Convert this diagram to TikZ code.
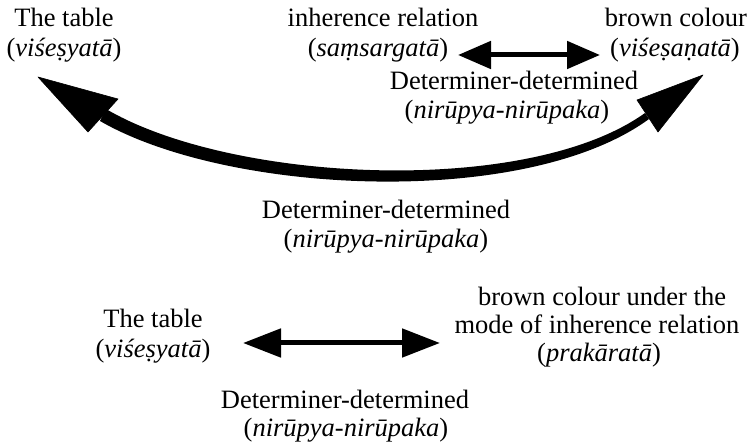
\documentclass[tikz,border=0pt]{standalone}
\usepackage{fontspec}
\setmainfont{Liberation Serif}
\usetikzlibrary{arrows.meta}
\begin{document}
\begin{tikzpicture}[x=1pt,y=-1pt,
  lbl/.style={anchor=base, inner sep=0pt, font=\fontsize{26.5}{29}\selectfont},
  dblarrow/.style={line width=5pt,
    {Triangle[length=33pt,width=27pt]}-{Triangle[length=33pt,width=27pt]}},
  dblarrowb/.style={line width=5pt,
    {Triangle[length=38pt,width=28pt]}-{Triangle[length=38pt,width=28pt]}},
  bighead/.style={fill=black, draw=black, line join=round, line width=0.6pt},
]
\useasboundingbox (0,0) rectangle (753,443);

% ---------- upper relation ----------
\node[lbl] (tabA)  at (64,27)  {The table};
\node[lbl] (tabB)  at (64,57)  {(\textit{viśeṣyatā})};
\node[lbl] (inhA)  at (383,27) {inherence relation};
\node[lbl] (inhB)  at (378,57) {(\textit{saṃsargatā})};
\node[lbl] (brA)   at (676,27) {brown colour};
\node[lbl] (brB)   at (675,57) {(\textit{viśeṣaṇatā})};
\node[lbl] (ddA)   at (514,90) {Determiner-determined};
\node[lbl] (ddB)   at (507,119) {(\textit{nirūpya-nirūpaka})};

% short double arrow between relation and qualifier
\coordinate (inhEnd) at (458,55);
\coordinate (brEnd)  at (600,55);
\draw[dblarrow] (inhEnd) -- (brEnd);

% long curved double arrow between qualificand and qualifier
\coordinate (LTip)  at (38,77);
\coordinate (LBase) at (103,115.5);
\coordinate (RTip)  at (703,75);
\coordinate (RBase) at (647.5,116);
\fill (106,109) .. controls (232,183) and (528,197) .. (645,113)
   -- (649,119) .. controls (526,209) and (228,195) .. (100,121) -- cycle;
\filldraw[bighead] (LTip) -- (118,99) -- (88,132) -- cycle;
\filldraw[bighead] (RTip) -- (637,100) -- (658,132) -- cycle;

\node[lbl] (ddC) at (386,219) {Determiner-determined};
\node[lbl] (ddD) at (386,248) {(\textit{nirūpya-nirūpaka})};

% ---------- lower relation ----------
\node[lbl] (tabC) at (153,328) {The table};
\node[lbl] (tabD) at (153,358) {(\textit{viśeṣyatā})};
\node[lbl] (prA)  at (602,306) {brown colour under the};
\node[lbl] (prB)  at (597,334) {mode of inherence relation};
\node[lbl] (prC)  at (599,362) {(\textit{prakāratā})};

\coordinate (tabEnd) at (243,343);
\coordinate (prEnd)  at (440,343);
\draw[dblarrowb] (tabEnd) -- (prEnd);

\node[lbl] (ddE) at (345,409) {Determiner-determined};
\node[lbl] (ddF) at (346,437) {(\textit{nirūpya-nirūpaka})};
\end{tikzpicture}
\end{document}
